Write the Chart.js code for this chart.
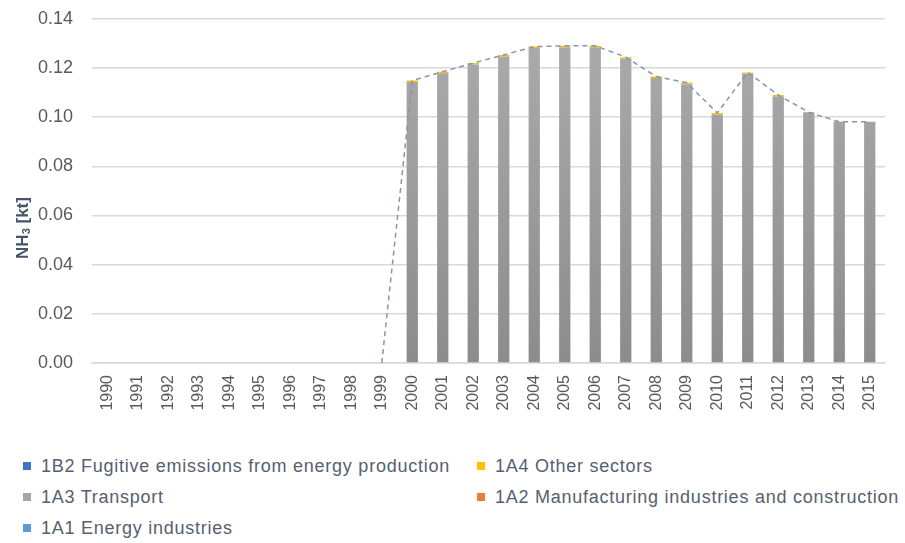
<!DOCTYPE html>
<html>
<head>
<meta charset="utf-8">
<script src="https://cdn.jsdelivr.net/npm/chart.js@4/dist/chart.umd.min.js"></script>
<style>
  body{margin:0;background:#fff;font-family:"Liberation Sans",Arial,sans-serif;}
  #wrap{position:relative;width:905px;height:543px;overflow:hidden;}
  #chart{position:absolute;left:0;top:-11px;}
  #legend{position:absolute;left:23px;top:455px;width:882px;display:grid;grid-template-columns:454px 428px;row-gap:9px;}
  .item{display:flex;align-items:center;font-size:18px;letter-spacing:0.75px;color:#556070;white-space:nowrap;height:22px;}
  .sw{width:8px;height:8px;margin-right:10px;flex:none;}
</style>
</head>
<body>
<div id="wrap">
  <canvas id="chart" width="905" height="441"></canvas>
  <div id="legend"></div>
</div>
<script>
// years
const years = ["1990","1991","1992","1993","1994","1995","1996","1997","1998","1999",
  "2000","2001","2002","2003","2004","2005","2006","2007","2008","2009",
  "2010","2011","2012","2013","2014","2015"];

// emissions by sector [kt]
const energyInd   = new Array(26).fill(0);
const manufact    = new Array(26).fill(0);
const fugitive    = new Array(26).fill(0);
const transport   = [0,0,0,0,0,0,0,0,0,0,
  0.1143,0.1179,0.1214,0.1247,0.1281,0.1284,0.1284,0.1238,0.1159,0.1134,
  0.1011,0.1176,0.1084,0.1020,0.0981,0.0981];
const otherSect   = [0,0,0,0,0,0,0,0,0,0,
  0.0006,0.0006,0.0006,0.0006,0.0006,0.0006,0.0006,0.0006,0.0006,0.0006,
  0.0006,0.0006,0.0006,0,0,0];
// total line (starts at 1999)
const total = [null,null,null,null,null,null,null,null,null,0,
  0.1149,0.1185,0.1220,0.1253,0.1287,0.1290,0.1290,0.1244,0.1165,0.1140,
  0.1017,0.1182,0.1090,0.1020,0.0981,0.0981];

const yTicks = [0,0.02,0.04,0.06,0.08,0.10,0.12,0.14];

function grayGrad(ctx){
  const ca = ctx.chart.chartArea;
  if(!ca) return "#a0a0a0";
  const g = ctx.chart.ctx.createLinearGradient(0, ca.top, 0, ca.bottom);
  g.addColorStop(0, "#acacac");
  g.addColorStop(1, "#8c8c8c");
  return g;
}

// y axis title with real subscript, drawn lower than centre like the original
const yTitle = {
  id:"yTitle",
  afterDraw(chart){
    const c = chart.ctx;
    c.save();
    c.translate(23, 239);
    c.rotate(-Math.PI/2);
    c.fillStyle = "#44546a";
    c.textBaseline = "middle";
    const big = "bold 17px 'Liberation Sans'", small = "bold 11px 'Liberation Sans'";
    c.font = big;  const w1 = c.measureText("NH").width;
    c.font = small; const w2 = c.measureText("3").width;
    c.font = big;  const w3 = c.measureText(" [kt]").width;
    let x = -(w1+w2+w3)/2;
    c.font = big; c.fillText("NH", x, 0); x += w1;
    c.font = small; c.fillText("3", x, 4); x += w2;
    c.font = big; c.fillText(" [kt]", x, 0);
    c.restore();
  }
};

const barOpts = {barPercentage:0.37, categoryPercentage:1, stack:"s"};

const chart = new Chart(document.getElementById("chart"), {
  data:{
    labels: years,
    datasets:[
      {type:"line", label:"Total", data: total, borderColor:"#8497b0", borderWidth:1.5,
       borderDash:[5,4], pointRadius:0, fill:false, order:0, spanGaps:false},
      {type:"bar", label:"1A1 Energy industries", data: energyInd, backgroundColor:"#5b9bd5", order:1, ...barOpts},
      {type:"bar", label:"1A2 Manufacturing industries and construction", data: manufact, backgroundColor:"#ed7d31", order:1, ...barOpts},
      {type:"bar", label:"1A3 Transport", data: transport, backgroundColor: grayGrad, order:1, ...barOpts},
      {type:"bar", label:"1A4 Other sectors", data: otherSect, backgroundColor:"#ffc000", order:1, ...barOpts},
      {type:"bar", label:"1B2 Fugitive emissions from energy production", data: fugitive, backgroundColor:"#4472c4", order:1, ...barOpts}
    ]
  },
  plugins:[yTitle],
  options:{
    responsive:false,
    animation:false,
    layout:{padding:{top:0,right:20,left:0,bottom:0}},
    plugins:{legend:{display:false}, tooltip:{enabled:false}},
    scales:{
      x:{
        stacked:true,
        grid:{display:false, drawTicks:false},
        border:{color:"#d9d9d9", width:1.5},
        ticks:{color:"#595959", font:{size:16, family:"Liberation Sans"}, minRotation:90, maxRotation:90, padding:12, autoSkip:false},
        afterFit(s){ s.height = 67; }
      },
      y:{
        stacked:true,
        min:0, max:0.14,
        afterBuildTicks(s){ s.ticks = yTicks.map(v=>({value:v})); },
        grid:{color:"#d9d9d9", lineWidth:1.5, drawTicks:false},
        border:{display:false},
        ticks:{color:"#595959", font:{size:18, family:"Liberation Sans"}, padding:19,
               callback:v=>v.toFixed(2)},
        afterFit(s){ s.width = 92; }
      }
    }
  }
});

// legend (two columns, order as in the original)
const legendOrder = [
  ["1B2 Fugitive emissions from energy production","#4472c4"],
  ["1A4 Other sectors","#ffc000"],
  ["1A3 Transport","#a5a5a5"],
  ["1A2 Manufacturing industries and construction","#ed7d31"],
  ["1A1 Energy industries","#5b9bd5"]
];
const lg = document.getElementById("legend");
legendOrder.forEach(([name,col])=>{
  const d = document.createElement("div");
  d.className = "item";
  d.innerHTML = `<span class="sw" style="background:${col}"></span>${name}`;
  lg.appendChild(d);
});
</script>
</body>
</html>
